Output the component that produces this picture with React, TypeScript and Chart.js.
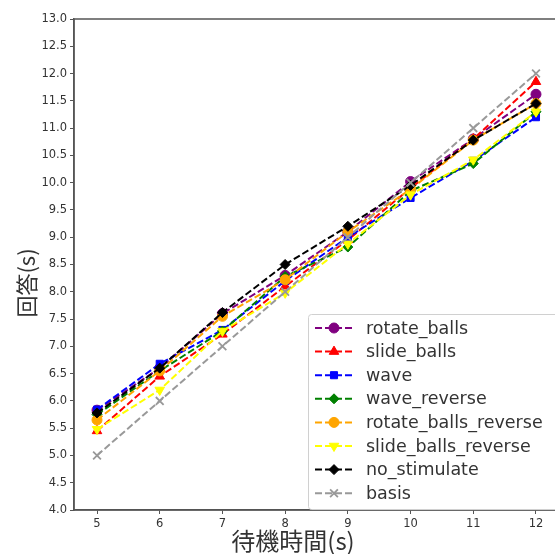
import React, { useEffect, useRef } from "react";
import { Chart, registerables } from "chart.js";
import { drawPoint } from "chart.js/helpers";

Chart.register(...registerables);

const waitTimes = [5, 6, 7, 8, 9, 10, 11, 12];
const yTickValues = [4, 4.5, 5, 5.5, 6, 6.5, 7, 7.5, 8, 8.5, 9, 9.5, 10, 10.5, 11, 11.5, 12, 12.5, 13];

const rotateBalls = [5.83, 6.6, 7.6, 8.3, 9.1, 10.02, 10.8, 11.62];
const slideBalls = [5.45, 6.45, 7.22, 8.1, 8.95, 9.9, 10.8, 11.85];
const wave = [5.84, 6.68, 7.3, 8.2, 9.0, 9.72, 10.4, 11.2];
const waveReverse = [5.75, 6.55, 7.28, 8.28, 8.82, 9.85, 10.35, 11.3];
const rotateBallsReverse = [5.65, 6.55, 7.55, 8.22, 9.1, 9.88, 10.78, 11.45];
const slideBallsReverse = [5.48, 6.2, 7.28, 7.98, 8.88, 9.78, 10.42, 11.3];
const noStimulate = [5.78, 6.6, 7.62, 8.5, 9.2, 9.95, 10.78, 11.45];
const basis = [5, 6, 7, 8, 9, 10, 11, 12];

const seriesNames = [
  "rotate_balls",
  "slide_balls",
  "wave",
  "wave_reverse",
  "rotate_balls_reverse",
  "slide_balls_reverse",
  "no_stimulate",
  "basis",
];
const seriesValues = [rotateBalls, slideBalls, wave, waveReverse, rotateBallsReverse, slideBallsReverse, noStimulate, basis];
const seriesColors = ["#800080", "#ff0000", "#0000ff", "#008000", "#ffa500", "#ffff00", "#000000", "#999999"];
const seriesMarkers = ["circle", "triangle", "rect", "rectRot", "circle", "triangle", "rectRot", "crossRot"];
const markerRotation = [0, 0, 0, 0, 0, 180, 0, 0];
const markerRadius = [5, 5.5, 5, 5, 5, 5.5, 5, 5.5];

const xTitle = "待機時間(s)";
const yTitle = "回答(s)";

const CW = 600;
const CH = 554;

export default function App() {
  const ref = useRef<HTMLCanvasElement | null>(null);

  useEffect(() => {
    const canvas = ref.current;
    if (!canvas) return;

    const datasets = seriesNames.map((name, i) => ({
      label: name,
      data: seriesValues[i].map((v, j) => ({ x: waitTimes[j], y: v })),
      borderColor: seriesColors[i],
      backgroundColor: seriesColors[i],
      borderWidth: 2,
      borderDash: [7, 3],
      pointStyle: seriesMarkers[i] as any,
      pointRotation: markerRotation[i],
      pointRadius: markerRadius[i],
      pointBorderWidth: i === 7 ? 1.8 : 1,
      pointBorderColor: seriesColors[i],
      pointBackgroundColor: seriesColors[i],
      order: -i,
      tension: 0,
      fill: false,
    }));

    const framePlugin = {
      id: "frame",
      afterDraw(chart: any) {
        const { ctx, chartArea } = chart;
        ctx.save();
        ctx.strokeStyle = "#555555";
        ctx.lineWidth = 1.5;
        ctx.strokeRect(chartArea.left, chartArea.top, chartArea.right - chartArea.left, chartArea.bottom - chartArea.top);

        // legend
        const lx = 308, ly = 314, lw = 252, lh = 195;
        ctx.fillStyle = "rgba(255,255,255,0.85)";
        ctx.strokeStyle = "#d0d0d0";
        ctx.lineWidth = 1;
        ctx.beginPath();
        (ctx as any).roundRect ? ctx.roundRect(lx + 0.5, ly + 0.5, lw, lh, 3) : ctx.rect(lx + 0.5, ly + 0.5, lw, lh);
        ctx.fill();
        ctx.stroke();
        ctx.font = "17.5px 'DejaVu Sans'";
        ctx.textBaseline = "middle";
        ctx.textAlign = "left";
        seriesNames.forEach((name, i) => {
          const y = 328 + i * 23.6;
          ctx.strokeStyle = seriesColors[i];
          ctx.lineWidth = 2;
          ctx.setLineDash([7, 3]);
          ctx.beginPath();
          ctx.moveTo(315, y);
          ctx.lineTo(353, y);
          ctx.stroke();
          ctx.setLineDash([]);
          ctx.fillStyle = seriesColors[i];
          ctx.strokeStyle = seriesColors[i];
          ctx.lineWidth = i === 7 ? 1.8 : 1;
          drawPoint(ctx, { pointStyle: seriesMarkers[i], radius: markerRadius[i], rotation: markerRotation[i], borderWidth: 1 } as any, 334, y);
          ctx.fillStyle = "#333333";
          ctx.fillText(name, 366, y + 1);
        });

        // axis titles
        ctx.fillStyle = "#333333";
        ctx.textAlign = "center";
        ctx.textBaseline = "middle";
        ctx.font = "24px 'Noto Sans CJK JP'";
        ctx.fillText(xTitle, 293, 541);
        ctx.save();
        ctx.translate(27, 283);
        ctx.rotate(-Math.PI / 2);
        ctx.font = "22px 'Noto Sans CJK JP'";
        ctx.fillText(yTitle, 0, 0);
        ctx.restore();
        ctx.restore();
      },
    };

    const chart = new Chart(canvas, {
      type: "line",
      data: { datasets },
      options: {
        responsive: false,
        animation: false,
        devicePixelRatio: 1,
        layout: { padding: { top: 19, right: CW - 559, bottom: 0, left: 0 } },
        plugins: { legend: { display: false }, tooltip: { enabled: false } },
        scales: {
          x: {
            type: "linear",
            min: 4.633,
            max: 12.367,
            afterFit(scale: any) {
              scale.height = 44;
            },
            afterBuildTicks(scale: any) {
              scale.ticks = waitTimes.map((v) => ({ value: v }));
            },
            ticks: {
              color: "#333333",
              font: { family: "'DejaVu Sans'", size: 11.5 },
              padding: 3,
              maxRotation: 0,
              autoSkip: false,
              callback: (v: any) => String(v),
            },
            grid: { display: true, drawOnChartArea: false, drawTicks: true, tickLength: 4, color: "#555555", lineWidth: 1 },
            border: { display: true, color: "#555555", width: 1.5 },
          },
          y: {
            type: "linear",
            min: 4,
            max: 13,
            afterFit(scale: any) {
              scale.width = 74;
            },
            afterBuildTicks(scale: any) {
              scale.ticks = yTickValues.map((v) => ({ value: v }));
            },
            ticks: {
              color: "#333333",
              font: { family: "'DejaVu Sans'", size: 11.5 },
              padding: 3,
              autoSkip: false,
              callback: (v: any) => Number(v).toFixed(1),
            },
            grid: { display: true, drawOnChartArea: false, drawTicks: true, tickLength: 4, color: "#555555", lineWidth: 1 },
            border: { display: true, color: "#555555", width: 1.5 },
          },
        },
      },
      plugins: [framePlugin],
    });
    return () => chart.destroy();
  }, []);

  return (
    <div style={{ position: "fixed", left: 0, top: 0, width: 555, height: 554, overflow: "hidden", background: "#fff" }}>
      <canvas ref={ref} width={CW} height={CH} style={{ width: CW, height: CH, display: "block" }} />
    </div>
  );
}
